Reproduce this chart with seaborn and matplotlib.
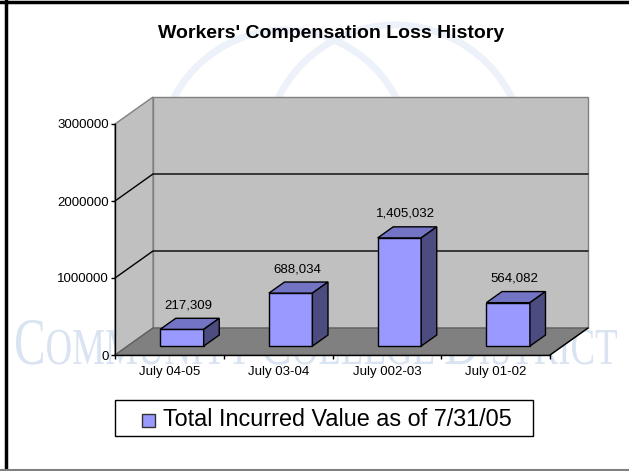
import numpy as np
import pandas as pd
import matplotlib
matplotlib.use("Agg")
import matplotlib.pyplot as plt
import seaborn as sns
from matplotlib.patches import Polygon, Rectangle, Circle, PathPatch
from matplotlib.lines import Line2D
from matplotlib.transforms import IdentityTransform, Affine2D, offset_copy
from matplotlib.textpath import TextPath, text_to_path
from matplotlib.font_manager import FontProperties
from matplotlib.path import Path

# datos del grafico
categories = ["July 04-05", "July 03-04", "July 002-03", "July 01-02"]
values = [217309, 688034, 1405032, 564082]
y_ticks = [0, 1000000, 2000000, 3000000]
title = "Workers' Compensation Loss History"
series_name = "Total Incurred Value as of 7/31/05"
watermark = [("C", 1.0), ("OMMUNITY ", 0.78), ("C", 1.0), ("OLLEGE ", 0.78),
             ("D", 1.0), ("ISTRICT", 0.78)]

sns.set_style("white")
plt.rcParams['font.family'] = ['Liberation Sans', 'DejaVu Sans']
for k in ("text.color", "axes.labelcolor", "xtick.color", "ytick.color"):
    plt.rcParams[k] = "black"

W, H = 629, 471
fig = plt.figure(figsize=(W / 100, H / 100), dpi=100)
fig.patch.set_facecolor("white")

# ejes en pixeles: frente del piso de x=115 a 550, y=355 (0) a 124 (3M)
ax = fig.add_axes([115 / W, (H - 355) / H, 435 / W, 231 / H])
ax.set_facecolor("none")

DX, DY = 38, 27          # profundidad del "3D"
d0, d1 = 0.33, 0.74      # profundidad de las barras

df = pd.DataFrame({"periodo": categories, "valor": values})
sns.barplot(data=df, x="periodo", y="valor", width=0.4, color="#9999FF",
            edgecolor="black", linewidth=1, saturation=1, errorbar=None, ax=ax)
ax.set_xlim(-0.5, len(categories) - 0.5)
ax.set_ylim(0, y_ticks[-1])
ax.set_autoscale_on(False)
bars = list(ax.patches)

def P(x, y, d):
    px, py = ax.transData.transform((x, y))
    return (px + DX * d, py + DY * d)

xl, xr = -0.5, len(categories) - 0.5
ytop = y_ticks[-1]
ident = IdentityTransform()

# paredes y piso
back = Polygon([P(xl, 0, 1), P(xr, 0, 1), P(xr, ytop, 1), P(xl, ytop, 1)],
               closed=True, fc="#C0C0C0", ec="#808080", lw=1, transform=ident,
               clip_on=False, zorder=0.2)
left = Polygon([P(xl, 0, 0), P(xl, ytop, 0), P(xl, ytop, 1), P(xl, 0, 1)],
               closed=True, fc="#C0C0C0", ec="#808080", lw=1, transform=ident,
               clip_on=False, zorder=0.2)
floor = Polygon([P(xl, 0, 0), P(xr, 0, 0), P(xr, 0, 1), P(xl, 0, 1)],
                closed=True, fc="#808080", ec="#606060", lw=1, transform=ident,
                clip_on=False, zorder=0.3)
for p in (back, left, floor):
    ax.add_patch(p)

# lineas de cuadricula
for yv in y_ticks[1:-1]:
    a, b, c = P(xl, yv, 0), P(xl, yv, 1), P(xr, yv, 1)
    ax.add_line(Line2D([a[0], b[0], c[0]], [a[1], b[1], c[1]], color="black",
                       lw=1, transform=ident, clip_on=False, zorder=0.4))
a, b = P(xr, 0, 0), P(xr, 0, 1)
ax.add_line(Line2D([a[0], b[0]], [a[1], b[1]], color="black", lw=1,
                   transform=ident, clip_on=False, zorder=0.4))

# barras: cara frontal de seaborn desplazada, mas techo y lado
front_tr = offset_copy(ax.transData, fig=fig, x=DX * d0, y=DY * d0, units="dots")
for bar in bars:
    bar.set_transform(front_tr)
    bar.set_clip_on(False)
    bar.set_zorder(2)
    x0, w, h = bar.get_x(), bar.get_width(), bar.get_height()
    top = Polygon([P(x0, h, d0), P(x0 + w, h, d0), P(x0 + w, h, d1), P(x0, h, d1)],
                  closed=True, fc="#7474C4", ec="black", lw=1, transform=ident,
                  clip_on=False, zorder=2)
    side = Polygon([P(x0 + w, 0, d0), P(x0 + w, h, d0), P(x0 + w, h, d1), P(x0 + w, 0, d1)],
                   closed=True, fc="#4C4C80", ec="black", lw=1, transform=ident,
                   clip_on=False, zorder=2)
    ax.add_patch(top)
    ax.add_patch(side)

# etiquetas de datos
for i, v in enumerate(values):
    ax.annotate(f"{v:,}", xy=(i, v), xytext=(DX * 0.5, DY * d1 + 7),
                textcoords="offset pixels", ha="center", va="bottom",
                fontsize=9.5, color="black", annotation_clip=False)

# ejes
ax.set_xlabel("")
ax.set_ylabel("")
ax.set_yticks(y_ticks)
ax.set_yticklabels([str(t) for t in y_ticks])
ax.set_xticks(range(len(categories)))
ax.set_xticklabels(categories)
ax.set_xticks(np.arange(len(categories) + 1) - 0.5, minor=True)
ax.tick_params(axis="y", length=2.9, width=1, direction="out", pad=1.5,
               labelsize=9.5, color="black", left=True)
ax.tick_params(axis="x", which="major", length=0, pad=8, labelsize=9.5)
ax.tick_params(axis="x", which="minor", length=2.9, width=1, direction="out",
               color="black", bottom=True)
for s in ("top", "right"):
    ax.spines[s].set_visible(False)
for s in ("left", "bottom"):
    ax.spines[s].set_color("black")
    ax.spines[s].set_linewidth(1)
    ax.spines[s].set_zorder(3)
ax.grid(False)

# titulo
fig.text(331 / W, 1 - 34 / H, title, ha="center", va="center",
         fontsize=14, fontweight="bold")

# leyenda
fig.add_artist(Rectangle((115, H - 436), 418, 36, fc="white", ec="black", lw=1,
                         transform=ident))
fig.add_artist(Rectangle((142, H - 426.5), 13, 13, fc="#9999FF", ec="#333333",
                         lw=1, transform=ident))
fig.text(163 / W, (H - 426) / H, series_name, ha="left", va="baseline",
         fontsize=16.8)

# marca de agua
fp = FontProperties(family="Liberation Serif")
paths, xc = [], 0.0
for s, k in watermark:
    f2 = fp.copy()
    f2.set_size(100 * k)
    paths.append(TextPath((xc, 0), s, prop=f2))
    wdt, _, _ = text_to_path.get_text_width_height_descent(s, f2, ismath=False)
    xc += wdt
wm = Path.make_compound_path(*paths)
bb = wm.get_extents()
tr = (Affine2D().translate(-bb.x0, 0)
      .scale(601 / bb.width, 44 / bb.y1).translate(16, H - 364))
fig.add_artist(PathPatch(tr.transform_path(wm), fc="#D9E3F1", ec="none",
                         transform=ident, zorder=-1))
for cx, r in ((285, 125), (395, 130)):
    fig.add_artist(Circle((cx, H - 155), r, fill=False, ec="#EDF1F9", lw=5,
                          transform=ident, zorder=-1))

# borde de la figura
fig.add_artist(Line2D([0, W], [H - 2, H - 2], color="black", lw=2.5, transform=ident))
fig.add_artist(Line2D([5.5, 5.5], [0, H], color="black", lw=2.5, transform=ident))
fig.add_artist(Line2D([0, W], [1.5, 1.5], color="#808080", lw=1.5, transform=ident))

fig.savefig("out.png", dpi=100, facecolor="white")
